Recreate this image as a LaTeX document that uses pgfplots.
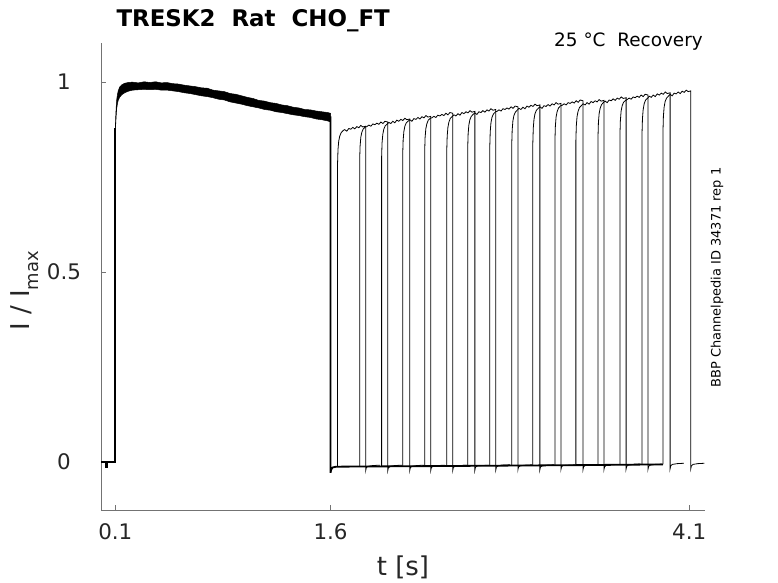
\documentclass[border=0pt]{standalone}
\usepackage{fontspec}
\setmainfont{DejaVu Sans}
\usepackage{pgfplots}
\pgfplotsset{compat=1.18}
\definecolor{axgray}{RGB}{115,115,115}
\definecolor{txt}{RGB}{38,38,38}
\begin{document}
\begin{tikzpicture}
\path[use as bounding box] (-101bp,-73bp) rectangle (677bp,510bp);
\begin{axis}[
 at={(0,0)}, anchor=south west,
 scale only axis, width=604bp, height=467bp,
 xmin=0, xmax=4.21, ymin=-0.126, ymax=1.103,
 axis x line*=bottom, axis y line*=left,
 axis line style={axgray, line width=0.7bp, -},
 xtick={0.1,1.6,4.1}, xticklabels={0.1,1.6,4.1},
 ytick={0,0.5,1}, yticklabels={0,0.5,1},
 tick align=inside, major tick length=5bp,
 tick style={axgray, line width=0.7bp},
 ticklabel style={font=\fontsize{21.5}{21.5}\selectfont, text=txt},
 xticklabel style={yshift=-10bp},
 yticklabel style={anchor=center, xshift=-37bp},
 clip=false,
]
% baseline before prepulse and prepulse onset
\addplot[black, line width=1.8bp] coordinates {(0,0) (0.035,0) (0.035,-0.012) (0.040,-0.012) (0.040,0) (0.100,0) (0.100,0.88)};
% prepulse band (overlapping sweeps)
\addplot[fill=black, draw=black, line width=0.5bp] coordinates {
(0.100,0.88) (0.102,0.905) (0.106,0.935) (0.110,0.955) (0.115,0.968) (0.120,0.977) (0.130,0.987) (0.145,0.993) (0.165,0.997) (0.19,0.999) (0.22,1.000) (0.26,0.998) (0.30,1.001) (0.34,0.999) (0.38,1.001) (0.42,0.998) (0.46,0.999) (0.50,0.996) (0.54,0.995) (0.58,0.992) (0.62,0.990) (0.66,0.988) (0.70,0.985) (0.74,0.984) (0.78,0.979) (0.82,0.977) (0.86,0.975) (0.90,0.970) (0.94,0.968) (0.98,0.964) (1.02,0.960) (1.06,0.957) (1.10,0.952) (1.14,0.950) (1.18,0.946) (1.22,0.944) (1.26,0.940) (1.30,0.938) (1.34,0.934) (1.38,0.932) (1.42,0.928) (1.46,0.927) (1.50,0.924) (1.54,0.922) (1.58,0.920) (1.60,0.918)
(1.60,0.895) (1.58,0.898) (1.54,0.901) (1.50,0.903) (1.46,0.907) (1.42,0.909) (1.38,0.912) (1.34,0.914) (1.30,0.917) (1.26,0.920) (1.22,0.922) (1.18,0.926) (1.14,0.928) (1.10,0.932) (1.06,0.935) (1.02,0.938) (0.98,0.942) (0.94,0.945) (0.90,0.948) (0.86,0.953) (0.82,0.955) (0.78,0.959) (0.74,0.962) (0.70,0.964) (0.66,0.967) (0.62,0.970) (0.58,0.972) (0.54,0.975) (0.50,0.977) (0.46,0.979) (0.42,0.979) (0.38,0.981) (0.34,0.980) (0.30,0.981) (0.26,0.980) (0.22,0.979) (0.19,0.976) (0.165,0.972) (0.145,0.967) (0.13,0.960) (0.12,0.952) (0.115,0.944) (0.11,0.932) (0.106,0.912) (0.102,0.885) (0.100,0.86)};
% end of prepulse and common baseline
\addplot[black, line width=1.8bp] coordinates {(1.600,0.910) (1.600,-0.028) (1.604,-0.020) (1.615,-0.014) (1.640,-0.012) (2.500,-0.010) (3.300,-0.008) (3.917,-0.006)};
% test pulses
\addplot[black, line width=0.8bp] coordinates {(1.649,-0.011) (1.649,0.788) (1.652,0.823) (1.657,0.845) (1.664,0.858) (1.674,0.867) (1.689,0.873) (1.699,0.875) (1.713,0.871) (1.727,0.878) (1.741,0.876) (1.755,0.881) (1.769,0.877) (1.783,0.883) (1.797,0.880) (1.811,0.886) (1.825,0.882) (1.845,0.884) (1.845,-0.022) (1.849,-0.015) (1.860,-0.011) (1.895,-0.009) (1.945,-0.008)};
\addplot[black, line width=0.8bp] coordinates {(1.803,-0.011) (1.803,0.797) (1.806,0.832) (1.811,0.855) (1.818,0.868) (1.828,0.877) (1.843,0.882) (1.853,0.883) (1.867,0.887) (1.881,0.884) (1.895,0.890) (1.909,0.888) (1.923,0.892) (1.937,0.889) (1.951,0.895) (1.965,0.891) (1.979,0.897) (1.999,0.895) (1.999,-0.022) (2.003,-0.015) (2.014,-0.011) (2.049,-0.009) (2.099,-0.008)};
\addplot[black, line width=0.8bp] coordinates {(1.956,-0.011) (1.956,0.804) (1.959,0.840) (1.964,0.862) (1.971,0.876) (1.981,0.885) (1.996,0.890) (2.006,0.894) (2.020,0.891) (2.034,0.897) (2.048,0.893) (2.062,0.900) (2.076,0.897) (2.090,0.902) (2.104,0.899) (2.118,0.905) (2.132,0.901) (2.152,0.903) (2.152,-0.022) (2.156,-0.015) (2.167,-0.011) (2.202,-0.009) (2.252,-0.008)};
\addplot[black, line width=0.8bp] coordinates {(2.103,-0.010) (2.103,0.811) (2.106,0.847) (2.111,0.870) (2.118,0.884) (2.128,0.893) (2.143,0.898) (2.153,0.901) (2.167,0.897) (2.181,0.904) (2.195,0.902) (2.209,0.907) (2.223,0.903) (2.237,0.909) (2.251,0.906) (2.265,0.912) (2.279,0.908) (2.299,0.910) (2.299,-0.021) (2.303,-0.014) (2.314,-0.011) (2.349,-0.009) (2.399,-0.008)};
\addplot[black, line width=0.8bp] coordinates {(2.256,-0.010) (2.256,0.817) (2.259,0.854) (2.264,0.877) (2.271,0.890) (2.281,0.900) (2.296,0.905) (2.306,0.906) (2.320,0.910) (2.334,0.907) (2.348,0.913) (2.362,0.911) (2.376,0.915) (2.390,0.912) (2.404,0.918) (2.418,0.914) (2.432,0.920) (2.452,0.918) (2.452,-0.021) (2.456,-0.014) (2.467,-0.011) (2.502,-0.009) (2.552,-0.008)};
\addplot[black, line width=0.8bp] coordinates {(2.410,-0.010) (2.410,0.821) (2.413,0.858) (2.418,0.881) (2.425,0.895) (2.435,0.905) (2.450,0.910) (2.460,0.914) (2.474,0.911) (2.488,0.917) (2.502,0.913) (2.516,0.920) (2.530,0.917) (2.544,0.922) (2.558,0.919) (2.572,0.925) (2.586,0.921) (2.606,0.923) (2.606,-0.021) (2.610,-0.014) (2.621,-0.010) (2.656,-0.009) (2.706,-0.008)};
\addplot[black, line width=0.8bp] coordinates {(2.556,-0.009) (2.556,0.827) (2.559,0.864) (2.564,0.887) (2.571,0.901) (2.581,0.910) (2.596,0.916) (2.606,0.919) (2.620,0.915) (2.634,0.922) (2.648,0.920) (2.662,0.925) (2.676,0.921) (2.690,0.927) (2.704,0.924) (2.718,0.930) (2.732,0.926) (2.752,0.928) (2.752,-0.020) (2.756,-0.013) (2.767,-0.010) (2.802,-0.008) (2.852,-0.007)};
\addplot[black, line width=0.8bp] coordinates {(2.710,-0.009) (2.710,0.832) (2.713,0.870) (2.718,0.893) (2.725,0.907) (2.735,0.916) (2.750,0.922) (2.760,0.923) (2.774,0.927) (2.788,0.924) (2.802,0.930) (2.816,0.928) (2.830,0.932) (2.844,0.929) (2.858,0.935) (2.872,0.931) (2.886,0.937) (2.906,0.935) (2.906,-0.020) (2.910,-0.013) (2.921,-0.010) (2.956,-0.008) (3.006,-0.007)};
\addplot[black, line width=0.8bp] coordinates {(2.863,-0.009) (2.863,0.837) (2.866,0.874) (2.871,0.898) (2.878,0.912) (2.888,0.921) (2.903,0.927) (2.913,0.931) (2.927,0.928) (2.941,0.934) (2.955,0.930) (2.969,0.937) (2.983,0.934) (2.997,0.939) (3.011,0.936) (3.025,0.942) (3.039,0.938) (3.059,0.940) (3.059,-0.020) (3.063,-0.013) (3.074,-0.010) (3.109,-0.008) (3.159,-0.007)};
\addplot[black, line width=0.8bp] coordinates {(3.010,-0.008) (3.010,0.841) (3.013,0.879) (3.018,0.902) (3.025,0.917) (3.035,0.926) (3.050,0.932) (3.060,0.935) (3.074,0.931) (3.088,0.938) (3.102,0.936) (3.116,0.941) (3.130,0.937) (3.144,0.943) (3.158,0.940) (3.172,0.946) (3.186,0.942) (3.206,0.944) (3.206,-0.019) (3.210,-0.012) (3.221,-0.009) (3.256,-0.008) (3.306,-0.007)};
\addplot[black, line width=0.8bp] coordinates {(3.164,-0.008) (3.164,0.846) (3.167,0.884) (3.172,0.908) (3.179,0.922) (3.189,0.932) (3.204,0.938) (3.214,0.939) (3.228,0.943) (3.242,0.940) (3.256,0.946) (3.270,0.944) (3.284,0.948) (3.298,0.945) (3.312,0.951) (3.326,0.947) (3.340,0.953) (3.360,0.951) (3.360,-0.019) (3.364,-0.012) (3.375,-0.009) (3.410,-0.007) (3.460,-0.006)};
\addplot[black, line width=0.8bp] coordinates {(3.310,-0.008) (3.310,0.847) (3.313,0.885) (3.318,0.909) (3.325,0.923) (3.335,0.933) (3.350,0.939) (3.360,0.943) (3.374,0.940) (3.388,0.946) (3.402,0.942) (3.416,0.949) (3.430,0.946) (3.444,0.951) (3.458,0.948) (3.472,0.954) (3.486,0.950) (3.506,0.952) (3.506,-0.019) (3.510,-0.012) (3.521,-0.009) (3.556,-0.007) (3.606,-0.006)};
\addplot[black, line width=0.8bp] coordinates {(3.464,-0.007) (3.464,0.854) (3.467,0.893) (3.472,0.917) (3.479,0.931) (3.489,0.941) (3.504,0.947) (3.514,0.950) (3.528,0.946) (3.542,0.953) (3.556,0.951) (3.570,0.956) (3.584,0.952) (3.598,0.958) (3.612,0.955) (3.626,0.961) (3.640,0.957) (3.660,0.959) (3.660,-0.018) (3.664,-0.011) (3.675,-0.008) (3.710,-0.006) (3.760,-0.005)};
\addplot[black, line width=0.8bp] coordinates {(3.617,-0.007) (3.617,0.860) (3.620,0.898) (3.625,0.923) (3.632,0.937) (3.642,0.947) (3.657,0.952) (3.667,0.954) (3.681,0.958) (3.695,0.955) (3.709,0.961) (3.723,0.959) (3.737,0.963) (3.751,0.960) (3.765,0.966) (3.779,0.962) (3.793,0.968) (3.813,0.966) (3.813,-0.018) (3.817,-0.011) (3.828,-0.008) (3.863,-0.006) (3.913,-0.005)};
\addplot[black, line width=0.8bp] coordinates {(3.771,-0.006) (3.771,0.865) (3.774,0.904) (3.779,0.928) (3.786,0.943) (3.796,0.953) (3.811,0.958) (3.821,0.963) (3.835,0.960) (3.849,0.966) (3.863,0.962) (3.877,0.969) (3.891,0.966) (3.905,0.971) (3.919,0.968) (3.933,0.974) (3.947,0.970) (3.967,0.972) (3.967,-0.017) (3.971,-0.010) (3.982,-0.006) (4.017,-0.004) (4.062,-0.003)};
\addplot[black, line width=0.8bp] coordinates {(3.917,-0.006) (3.917,0.870) (3.920,0.910) (3.925,0.934) (3.932,0.949) (3.942,0.958) (3.957,0.964) (3.967,0.968) (3.981,0.964) (3.995,0.971) (4.009,0.969) (4.023,0.974) (4.037,0.970) (4.051,0.976) (4.065,0.973) (4.079,0.979) (4.093,0.975) (4.111,0.977) (4.111,-0.017) (4.115,-0.010) (4.126,-0.006) (4.160,-0.004) (4.205,-0.003)};
\end{axis}
\node[anchor=base west, font=\bfseries\fontsize{23}{23}\selectfont, text=black] at (12bp,483bp) {TRESK2\ \ Rat\ \ CHO\_FT};
\node[anchor=base east, font=\fontsize{18.5}{18.5}\selectfont, text=black, inner sep=0pt] at (602bp,463bp) {25 °C\ \ Recovery};
\node[rotate=90, font=\fontsize{13}{13}\selectfont, text=black, inner sep=0pt] at (616bp,232.5bp) {BBP Channelpedia ID 34371 rep 1};
\node[font=\fontsize{26}{26}\selectfont, text=txt] at (302bp,-57bp) {t [s]};
\node[rotate=90, font=\fontsize{26}{26}\selectfont, text=txt] at (-76bp,219bp) {I / I\raisebox{-0.35em}{\fontsize{18}{18}\selectfont max}};
\end{tikzpicture}
\end{document}
